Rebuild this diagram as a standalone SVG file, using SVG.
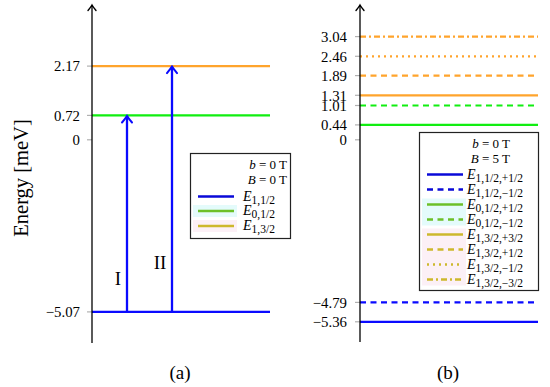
<svg xmlns="http://www.w3.org/2000/svg" width="550" height="387" viewBox="0 0 550 387" font-family="'Liberation Serif', 'DejaVu Serif', serif">
<style>
text{font-family:'Liberation Serif','DejaVu Serif',serif;fill:#000}
.tl{font-size:14.8px;text-anchor:end}
.lg{font-size:13px}
.le{font-size:14px}
.sub{font-size:11.5px}
.it{font-style:italic}
.axis{stroke:#000;stroke-width:1.3;fill:none}
.tick{stroke:#b0b0b0;stroke-width:1.2}
.lv{stroke-width:2.2;fill:none}
.blue{stroke:#0a0aff}
.green{stroke:#11ee11}
.orange{stroke:#ffa42c}
.lblue{stroke:#0a0ad8;stroke-width:2.4}
.lgreen{stroke:#6cc028;stroke-width:2.4}
.lyel{stroke:#cdb82c;stroke-width:2.4}
.dash{stroke-dasharray:6 4.5}
.dot{stroke-dasharray:2 4}
.dashdot{stroke-dasharray:6 3 2 3}
.box{fill:#fff;stroke:#222;stroke-width:1.2}
</style>
<defs>
<marker id="arrB" viewBox="-8 -7 10 14" markerWidth="10" markerHeight="14" refX="0" refY="0" orient="auto" markerUnits="userSpaceOnUse">
<path d="M-6.5,-5 Q-2,-1.2 0,0 Q-2,1.2 -6.5,5" fill="none" stroke="#0a0aff" stroke-width="2" stroke-linecap="round"/>
</marker>
<marker id="arrK" viewBox="-8 -6 10 12" markerWidth="10" markerHeight="12" refX="0" refY="0" orient="auto" markerUnits="userSpaceOnUse">
<path d="M-5.5,-4 Q-1.8,-1 0,0 Q-1.8,1 -5.5,4" fill="none" stroke="#000" stroke-width="1.4" stroke-linecap="round"/>
</marker>
</defs>
<rect width="550" height="387" fill="#fff"/>

<!-- Panel (a) -->
<g id="panel-a">
<g id="a-levels">
<line class="lv orange" x1="92" y1="66.1" x2="270" y2="66.1"/>
<line class="lv green" x1="92" y1="115.4" x2="270" y2="115.4"/>
<line class="lv blue" x1="92" y1="311.9" x2="270" y2="311.9"/>
</g>
<g id="a-axis">
<line class="tick" x1="87" y1="66.1" x2="92" y2="66.1"/>
<line class="tick" x1="87" y1="115.4" x2="92" y2="115.4"/>
<line class="tick" x1="87" y1="139.8" x2="92" y2="139.8"/>
<line class="tick" x1="87" y1="311.9" x2="92" y2="311.9"/>
<line class="axis" x1="92" y1="343" x2="92" y2="5" marker-end="url(#arrK)"/>
<text class="tl" x="80" y="71.2">2.17</text>
<text class="tl" x="80" y="120.6">0.72</text>
<text class="tl" x="80" y="145">0</text>
<text class="tl" x="80" y="317.1">−5.07</text>
</g>
<g id="a-connectors">
<line x1="127" y1="311.9" x2="127" y2="116" stroke="#0a0aff" stroke-width="2.3" marker-end="url(#arrB)"/>
<line x1="172" y1="311.9" x2="172" y2="66.6" stroke="#0a0aff" stroke-width="2.3" marker-end="url(#arrB)"/>
</g>
<text x="118" y="285" font-size="19" text-anchor="middle">I</text>
<text x="160" y="269" font-size="19" text-anchor="middle">II</text>
<text x="22" y="178" font-size="20.5" text-anchor="middle" transform="rotate(-90 22 178)" dy="6">Energy [meV]</text>
<text x="180" y="379" font-size="19" text-anchor="middle">(a)</text>
<g id="a-legend">
<rect class="box" x="190.5" y="153.5" width="100" height="85"/>
<text class="lg" x="287" y="169" text-anchor="end"><tspan class="it">b</tspan> = 0 T</text>
<text class="lg" x="287" y="184" text-anchor="end"><tspan class="it">B</tspan> = 0 T</text>
<rect x="193" y="205" width="44" height="12" fill="#e4fbfb"/>
<rect x="193" y="220" width="44" height="12" fill="#fcf0f6"/>
<line class="lblue" x1="198" y1="196.5" x2="234" y2="196.5"/>
<line class="lgreen" x1="198" y1="211" x2="234" y2="211"/>
<line class="lyel" x1="198" y1="226" x2="234" y2="226"/>
<text class="le" x="243" y="200.5"><tspan class="it">E</tspan><tspan class="sub" dy="3">1,1/2</tspan></text>
<text class="le" x="243" y="215"><tspan class="it">E</tspan><tspan class="sub" dy="3">0,1/2</tspan></text>
<text class="le" x="243" y="230"><tspan class="it">E</tspan><tspan class="sub" dy="3">1,3/2</tspan></text>
</g>
</g>

<!-- Panel (b) -->
<g id="panel-b">
<g id="b-levels">
<line class="lv orange dashdot" x1="360" y1="36.6" x2="538" y2="36.6"/>
<line class="lv orange dot" x1="360" y1="56.3" x2="538" y2="56.3"/>
<line class="lv orange dash" x1="360" y1="75.6" x2="538" y2="75.6"/>
<line class="lv orange" x1="360" y1="95.3" x2="538" y2="95.3"/>
<line class="lv green dash" x1="360" y1="105.5" x2="538" y2="105.5"/>
<line class="lv green" x1="360" y1="124.9" x2="538" y2="124.9"/>
<line class="lv blue dash" x1="360" y1="302.4" x2="538" y2="302.4"/>
<line class="lv blue" x1="360" y1="321.8" x2="538" y2="321.8"/>
</g>
<g id="b-axis">
<line class="tick" x1="355" y1="36.6" x2="360" y2="36.6"/>
<line class="tick" x1="355" y1="56.3" x2="360" y2="56.3"/>
<line class="tick" x1="355" y1="75.6" x2="360" y2="75.6"/>
<line class="tick" x1="355" y1="95.3" x2="360" y2="95.3"/>
<line class="tick" x1="355" y1="105.5" x2="360" y2="105.5"/>
<line class="tick" x1="355" y1="124.9" x2="360" y2="124.9"/>
<line class="tick" x1="355" y1="139.8" x2="360" y2="139.8"/>
<line class="tick" x1="355" y1="302.4" x2="360" y2="302.4"/>
<line class="tick" x1="355" y1="321.8" x2="360" y2="321.8"/>
<line class="axis" x1="360" y1="342" x2="360" y2="5" marker-end="url(#arrK)"/>
<text class="tl" x="347" y="41.8">3.04</text>
<text class="tl" x="347" y="61.5">2.46</text>
<text class="tl" x="347" y="80.8">1.89</text>
<text class="tl" x="347" y="100.5">1.31</text>
<text class="tl" x="347" y="110.7">1.01</text>
<text class="tl" x="347" y="130.1">0.44</text>
<text class="tl" x="347" y="145">0</text>
<text class="tl" x="347" y="307.6">−4.79</text>
<text class="tl" x="347" y="327">−5.36</text>
</g>
<text x="448" y="379" font-size="19" text-anchor="middle">(b)</text>
<g id="b-legend">
<rect class="box" x="419.5" y="132.5" width="119" height="158"/>
<text class="lg" x="510" y="147.5" text-anchor="end"><tspan class="it">b</tspan> = 0 T</text>
<text class="lg" x="510" y="162.5" text-anchor="end"><tspan class="it">B</tspan> = 5 T</text>
<rect x="422" y="198.5" width="44" height="27" fill="#e4fbfb"/>
<rect x="422" y="228.5" width="44" height="57" fill="#fcf0f6"/>
<line class="lblue" x1="427" y1="174.5" x2="463" y2="174.5"/>
<line class="lblue dash" x1="427" y1="189.5" x2="463" y2="189.5"/>
<line class="lgreen" x1="427" y1="204.5" x2="463" y2="204.5"/>
<line class="lgreen dash" x1="427" y1="219.5" x2="463" y2="219.5"/>
<line class="lyel" x1="427" y1="234.5" x2="463" y2="234.5"/>
<line class="lyel dash" x1="427" y1="249.5" x2="463" y2="249.5"/>
<line class="lyel dot" x1="427" y1="264.5" x2="463" y2="264.5"/>
<line class="lyel dashdot" x1="427" y1="279.5" x2="463" y2="279.5"/>
<text class="le" x="467" y="178.5"><tspan class="it">E</tspan><tspan class="sub" dy="3">1,1/2,+1/2</tspan></text>
<text class="le" x="467" y="193.5"><tspan class="it">E</tspan><tspan class="sub" dy="3">1,1/2,−1/2</tspan></text>
<text class="le" x="467" y="208.5"><tspan class="it">E</tspan><tspan class="sub" dy="3">0,1/2,+1/2</tspan></text>
<text class="le" x="467" y="223.5"><tspan class="it">E</tspan><tspan class="sub" dy="3">0,1/2,−1/2</tspan></text>
<text class="le" x="467" y="238.5"><tspan class="it">E</tspan><tspan class="sub" dy="3">1,3/2,+3/2</tspan></text>
<text class="le" x="467" y="253.5"><tspan class="it">E</tspan><tspan class="sub" dy="3">1,3/2,+1/2</tspan></text>
<text class="le" x="467" y="268.5"><tspan class="it">E</tspan><tspan class="sub" dy="3">1,3/2,−1/2</tspan></text>
<text class="le" x="467" y="283.5"><tspan class="it">E</tspan><tspan class="sub" dy="3">1,3/2,−3/2</tspan></text>
</g>
</g>
</svg>
